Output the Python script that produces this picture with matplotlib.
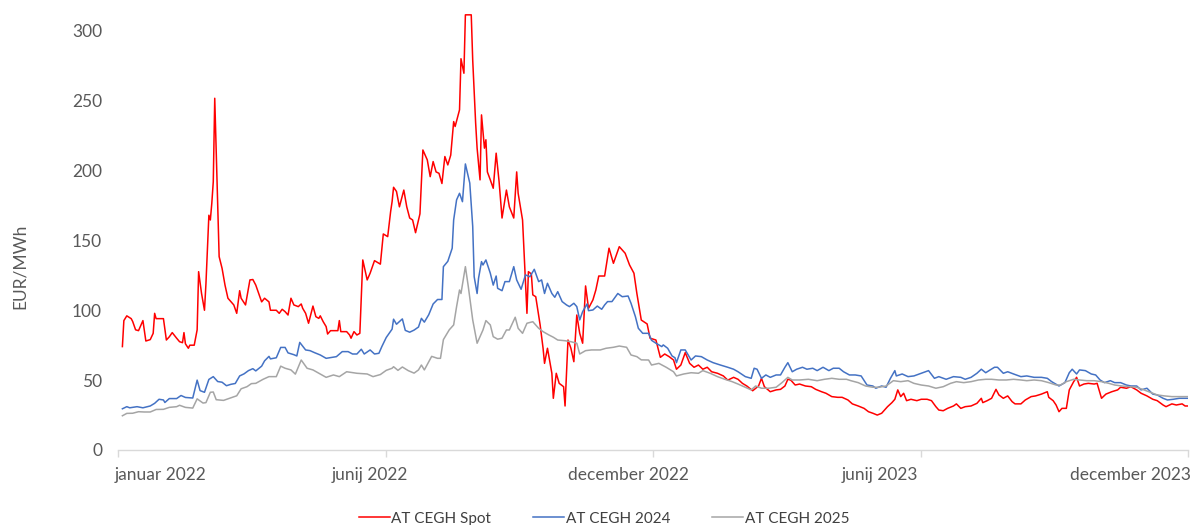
import matplotlib
matplotlib.use('Agg')
import matplotlib.pyplot as plt
import pandas as pd

# ---------------- data (days since 2022-01-01, EUR/MWh) ----------------
start = pd.Timestamp('2022-01-01')

red_day = [3, 4, 6, 9, 10, 12, 14, 17, 19, 22,
           24, 25, 26, 31, 33, 35, 37, 40, 42, 44,
           45, 46, 48, 49, 52, 54, 55, 57, 59, 60,
           62, 63, 64, 65, 66, 67, 69, 71, 73, 75,
           79, 81, 83, 84, 87, 90, 92, 94, 96, 98,
           100, 103, 104, 108, 110, 112, 114, 116, 118, 120,
           123, 125, 126, 128, 130, 133, 135, 137, 138, 140,
           142, 143, 145, 150, 151, 152, 156, 158, 159, 161,
           163, 165, 167, 170, 172, 175, 179, 181, 184, 186,
           187, 188, 190, 192, 195, 197, 199, 201, 203, 206,
           208, 211, 213, 215, 217, 219, 221, 223, 225, 227,
           229, 230, 233, 234, 236, 237, 241, 242, 244, 245,
           247, 248, 250, 251, 252, 254, 256, 258, 260, 262,
           265, 267, 270, 272, 273, 276, 279, 280, 282, 283,
           285, 288, 290, 291, 293, 296, 297, 299, 301, 304,
           305, 307, 309, 311, 313, 315, 317, 319, 321, 324,
           326, 328, 332, 335, 338, 342, 346, 349, 352, 354,
           357, 361, 363, 367, 370, 373, 376, 379, 381, 384,
           387, 390, 393, 396, 399, 402, 405, 409, 413, 416,
           420, 423, 426, 429, 433, 437, 439, 441, 445, 449,
           452, 455, 457, 459, 462, 465, 469, 473, 476, 480,
           483, 487, 491, 494, 498, 501, 505, 509, 512, 515,
           518, 521, 523, 525, 528, 530, 532, 534, 536, 538,
           541, 545, 548, 552, 555, 558, 560, 563, 566, 570,
           572, 575, 578, 582, 586, 589, 590, 593, 596, 599,
           601, 604, 607, 610, 612, 616, 619, 623, 626, 630,
           634, 635, 638, 640, 642, 644, 647, 649, 652, 654,
           656, 659, 662, 666, 668, 671, 674, 678, 682, 684,
           688, 691, 695, 698, 702, 706, 709, 713, 715, 719,
           722, 726, 728, 730]
red_val = [74, 92.6, 96, 94, 92, 86, 85.4, 92.6, 78, 79,
           83.5, 97.8, 94, 94, 78.7, 81, 84, 80, 77.5, 76.8,
           84, 76, 72.8, 75, 75, 86, 127.6, 112, 100, 119,
           168, 164.6, 176.6, 192, 251.7, 214.7, 138.4, 130, 118, 108.6,
           103.8, 97.8, 114, 108.6, 103.8, 121.7, 122, 118, 112, 106,
           108.6, 106, 100, 100, 97.8, 100.7, 99, 96.6, 108.6, 103.8,
           102.6, 104.5, 101.4, 97.8, 90.7, 103, 95.4, 94.2, 96, 91.8,
           88.3, 83, 85.4, 85.4, 92.6, 84.7, 84.7, 82.3, 80, 84.7,
           82.3, 83.5, 136, 121.7, 126.5, 135.5, 133, 154.6, 152.7, 170.6,
           177.7, 188, 185, 174, 186, 174, 166, 164.6, 155.5, 169,
           214.7, 207.6, 195.6, 206.4, 199, 198, 190.7, 210, 204, 211,
           235, 231.5, 243.4, 280, 269.6, 311.4, 311.4, 279, 233.9, 216,
           193.3, 239.8, 216, 222, 199, 193.3, 187.3, 212.4, 192, 166,
           186, 174, 166, 199, 183.7, 164.6, 97.8, 127.6, 126, 111,
           109.7, 89.5, 72.8, 62, 72.8, 54.9, 37, 54.9, 47.7, 45.3,
           31.5, 78.7, 72.8, 63.2, 96.6, 83.5, 76.4, 117.4, 101.4, 107.4,
           114.5, 124.5, 124.5, 144.4, 133.6, 145.5, 140.8, 132.4, 126.5, 112,
           93, 90.2, 80, 78.7, 66.3, 68.7, 66.8, 64.4, 57.8, 60.8,
           69.7, 62, 59.2, 60.8, 57.8, 59.2, 56, 54.9, 53, 50,
           52, 50.6, 47.7, 45.8, 42.4, 45.8, 51.3, 45.3, 41.7, 43,
           43.4, 45.8, 50.6, 50, 46.5, 47.2, 45.8, 45.3, 43.4, 41.7,
           40.6, 38.2, 37.7, 37.7, 35.8, 33, 31.5, 29.8, 27.4, 26.3,
           25, 26.3, 28.6, 31, 33.9, 36.3, 43, 38.2, 40.6, 35.3,
           36.3, 35.3, 36.3, 36.3, 35.3, 31, 28.6, 28.1, 29.8, 31.5,
           33, 29.8, 31, 31.5, 33.4, 37, 33.9, 35.3, 37, 43.4,
           39.4, 37, 38.7, 34.6, 33, 33, 35.8, 38.2, 38.7, 40,
           41.7, 37.7, 35.3, 32.2, 27.4, 29.8, 29.8, 43, 48.9, 52,
           45.8, 47.2, 47.7, 47.2, 47.7, 37, 40, 41.7, 43, 44.9,
           44.2, 45.3, 43, 40.6, 38.7, 36.3, 35.3, 32.2, 31, 33,
           32.2, 33, 31.5, 31.5]

blue_day = [3, 6, 8, 13, 17, 22, 25, 28, 31, 32,
            35, 40, 43, 46, 51, 54, 56, 59, 62, 65,
            68, 71, 74, 77, 80, 83, 86, 89, 92, 94,
            98, 100, 103, 104, 108, 111, 114, 116, 120, 122,
            124, 128, 131, 134, 138, 142, 146, 149, 153, 157,
            160, 163, 166, 168, 172, 175, 178, 180, 183, 187,
            188, 190, 194, 196, 199, 202, 205, 207, 209, 212,
            215, 218, 221, 222, 225, 228, 229, 231, 233, 235,
            237, 240, 242, 243, 245, 246, 248, 249, 251, 254,
            256, 258, 259, 262, 264, 267, 270, 272, 275, 278,
            281, 284, 287, 289, 291, 293, 296, 298, 300, 303,
            306, 308, 311, 313, 315, 317, 320, 321, 324, 327,
            330, 332, 334, 337, 341, 344, 348, 350, 353, 355,
            358, 362, 364, 367, 371, 372, 375, 378, 380, 381,
            384, 387, 391, 394, 398, 402, 406, 411, 416, 420,
            423, 428, 432, 434, 436, 439, 442, 445, 449, 452,
            455, 457, 460, 463, 467, 470, 474, 477, 481, 485,
            488, 492, 495, 499, 503, 507, 511, 515, 517, 521,
            524, 527, 530, 531, 535, 539, 543, 548, 553, 557,
            560, 565, 570, 575, 578, 582, 586, 589, 592, 595,
            598, 600, 604, 607, 611, 616, 620, 625, 630, 634,
            637, 642, 646, 649, 651, 654, 656, 660, 664, 667,
            670, 673, 677, 680, 684, 688, 691, 695, 698, 702,
            706, 709, 713, 716, 720, 724, 727, 730]
blue_val = [29.5, 31, 30.2, 31, 30.2, 31.5, 33.4, 36.3, 35.8, 34,
            36.8, 36.8, 39, 37.6, 37.2, 50, 42.5, 41.3, 50.5, 52.5,
            49, 48.5, 46, 47, 47.6, 53, 54.5, 56.8, 58.2, 56.6,
            60, 63.8, 67, 65.2, 66, 73.4, 73.4, 69.5, 68.2, 67.3,
            77, 71.6, 71.1, 69.7, 68, 65.6, 66.3, 66.8, 70.4, 70.4,
            68.7, 68.7, 72.1, 68.7, 71.6, 68.7, 69.2, 74, 80.5, 86.5,
            93.6, 90, 93.8, 85.6, 84.3, 85.8, 88, 94.2, 91.5, 96.8,
            104.5, 107.7, 107.7, 131.2, 135, 144.4, 164.6, 179, 183.7, 177.7,
            204.7, 191, 160, 124, 112, 123, 134.8, 132.4, 136, 126.5,
            118, 124.5, 115.7, 114, 120.5, 120.5, 131.2, 121.7, 115, 125.3,
            124, 129.3, 120.5, 121.7, 112, 119.3, 112, 109.3, 113.3, 106.2,
            103.8, 102.6, 105, 102.6, 93.1, 99, 104.5, 99.7, 100.2, 103,
            100.7, 103.8, 106.2, 106.2, 112, 109.7, 110.2, 105, 95.4, 87.1,
            83.5, 83.5, 78.5, 76.4, 74, 75.2, 72.8, 67.3, 66, 62.5,
            71.6, 71.6, 64.4, 67.3, 66.8, 64.4, 62.5, 60.8, 59.2, 57.8,
            56, 52.5, 51.3, 58.5, 57.8, 51.3, 53.7, 52, 53.7, 53.7,
            59.2, 62.5, 56, 57.8, 59.2, 57.8, 58.5, 56.8, 59.2, 56.8,
            58.5, 58.5, 56, 53.7, 53.7, 53, 46.5, 45.8, 44.2, 45.8,
            44.9, 51.3, 56.8, 53, 54.4, 52.5, 53, 54.9, 56.8, 51.3,
            52.5, 50.6, 52.5, 52, 50.6, 52, 54.9, 57.8, 55.3, 57.3,
            59.2, 59.2, 54.9, 56, 54.4, 52.5, 53, 52, 52, 51.3,
            48.9, 45.8, 48.2, 55.3, 57.8, 54.4, 57.3, 56.8, 54.4, 53.7,
            50.1, 48.2, 49.6, 48.2, 48.2, 46.5, 45.8, 45.8, 43, 44.2,
            40, 39.4, 37, 35.8, 36.3, 37, 37, 37]

gray_day = [3, 6, 10, 14, 18, 22, 26, 31, 35, 40,
            42, 46, 51, 54, 58, 60, 63, 65, 67, 72,
            76, 81, 84, 88, 91, 94, 99, 103, 108, 111,
            114, 118, 121, 125, 129, 133, 138, 142, 147, 151,
            156, 163, 170, 174, 179, 183, 187, 188, 191, 194,
            198, 202, 205, 207, 209, 214, 218, 220, 222, 226,
            229, 231, 233, 234, 237, 239, 242, 245, 247, 249,
            251, 254, 256, 259, 262, 265, 267, 271, 273, 276,
            279, 283, 287, 290, 294, 297, 300, 305, 309, 313,
            315, 319, 323, 329, 333, 338, 342, 347, 350, 354,
            357, 362, 364, 369, 374, 379, 381, 386, 391, 396,
            399, 404, 409, 414, 419, 423, 428, 432, 435, 439,
            444, 449, 453, 457, 460, 465, 471, 477, 482, 487,
            492, 497, 500, 505, 510, 515, 519, 524, 529, 534,
            539, 543, 548, 553, 558, 563, 568, 572, 577, 582,
            587, 592, 596, 601, 606, 611, 616, 620, 625, 630,
            635, 640, 643, 647, 652, 656, 661, 666, 671, 676,
            680, 685, 690, 695, 700, 705, 709, 714, 719, 724,
            730]
gray_val = [24.5, 26.2, 26.3, 27.4, 27.2, 27.2, 29, 29.1, 30.5, 31,
            32, 30.5, 30, 36.6, 33.6, 33.9, 41.3, 41.5, 36, 35.5,
            37, 38.8, 43.8, 45.3, 47.5, 47.7, 50.6, 52.5, 52.5, 60,
            58.5, 57.3, 54.3, 64.4, 58.5, 57.3, 54.4, 52, 53.7, 52.5,
            56, 54.9, 54.4, 52.5, 54, 57, 58.5, 59.6, 57, 59.4,
            56.8, 55, 57.3, 60.8, 57.3, 67, 65.6, 65.6, 79, 86,
            89.5, 102.6, 114.5, 112, 131.2, 116.9, 93.1, 76.4, 81.1, 85.9,
            92.6, 89.5, 81.1, 79.3, 80, 85.9, 85.9, 95, 87.1, 83.5,
            90.7, 91.8, 87.1, 84.7, 82.3, 80.7, 78.7, 78.2, 77.5, 76.4,
            68.7, 71.1, 71.6, 71.6, 72.8, 73.5, 74.4, 73.5, 68, 66.8,
            64.5, 64.4, 60.8, 62, 59.2, 56, 53, 54.4, 55.3, 54.9,
            56.8, 54.9, 52.5, 50.6, 48.9, 47.2, 44.9, 43, 45.8, 44.2,
            44.2, 44.9, 48.2, 52, 50.1, 50.1, 50.6, 49.6, 50.6, 51.3,
            50.6, 50.6, 49.6, 48.2, 45.8, 44.9, 44.9, 45.8, 49.6, 48.9,
            49.6, 47.7, 46.5, 45.8, 44.2, 45.3, 47.7, 48.9, 48.2, 48.9,
            50.1, 50.6, 50.6, 50.1, 50.1, 50.6, 50.1, 49.6, 50.1, 49.6,
            48.2, 46.5, 46.5, 48.9, 50.6, 50.1, 49.6, 49.6, 48.9, 47.7,
            46.5, 45.8, 45.3, 44.9, 43, 41, 39.4, 38.7, 38.2, 38.2,
            38.2]

series_names = ['AT CEGH Spot', 'AT CEGH 2024', 'AT CEGH 2025']
tick_days = [0, 182.5, 365, 547.5, 730]
label_days = [29, 172, 348, 520, 691]
tick_labels = ['januar 2022', 'junij 2022', 'december 2022', 'junij 2023', 'december 2023']
y_ticks = [0, 50, 100, 150, 200, 250, 300]


def to_dates(days):
    return start + pd.to_timedelta(pd.Series(days, dtype=float), unit='D')


# ---------------- figure ----------------
W, H = 1192, 525
fig = plt.figure(figsize=(W / 100, H / 100), dpi=100)
ax = fig.add_axes([118 / W, 75 / H, 1070 / W, 436 / H])

FONT = ['Lato', 'DejaVu Sans']
TXT = '#595959'
FS = 12.5

ax.plot(to_dates(red_day), red_val, color='#FF0000', lw=1.1, label=series_names[0])
ax.plot(to_dates(blue_day), blue_val, color='#4472C4', lw=1.1, label=series_names[1])
ax.plot(to_dates(gray_day), gray_val, color='#A5A5A5', lw=1.1, label=series_names[2])

ax.set_ylim(0, 312)
ax.set_xlim(start, start + pd.Timedelta(days=730))

for s in ['left', 'right', 'top']:
    ax.spines[s].set_visible(False)
ax.spines['bottom'].set_color('#D9D9D9')
ax.spines['bottom'].set_linewidth(1.0)

ax.set_yticks(y_ticks)
ax.set_yticklabels([str(v) for v in y_ticks], fontfamily=FONT, fontsize=FS, color=TXT)
ax.tick_params(axis='y', length=0, pad=11.5)

ax.set_xticks(list(to_dates(tick_days)))
ax.set_xticklabels([''] * len(tick_days))
ax.set_xticks(list(to_dates(label_days)), minor=True)
ax.set_xticklabels(tick_labels, minor=True, fontfamily=FONT, fontsize=FS, color=TXT)
ax.tick_params(axis='x', which='major', length=5, color='#D9D9D9', width=1.0)
ax.tick_params(axis='x', which='minor', length=0, pad=12.5)

ax.set_ylabel('EUR/MWh', fontfamily=FONT, fontsize=FS, color=TXT)
ax.yaxis.set_label_coords(-0.084, 0.422)

leg = fig.legend(loc='lower center', bbox_to_anchor=(604 / W, -0.016), ncol=3,
                 frameon=False, handlelength=2.0, handletextpad=0.12,
                 columnspacing=2.75, borderaxespad=0.1,
                 prop={'family': FONT, 'size': 11})
for t in leg.get_texts():
    t.set_color('#404040')

fig.savefig('out.png', dpi=100)
